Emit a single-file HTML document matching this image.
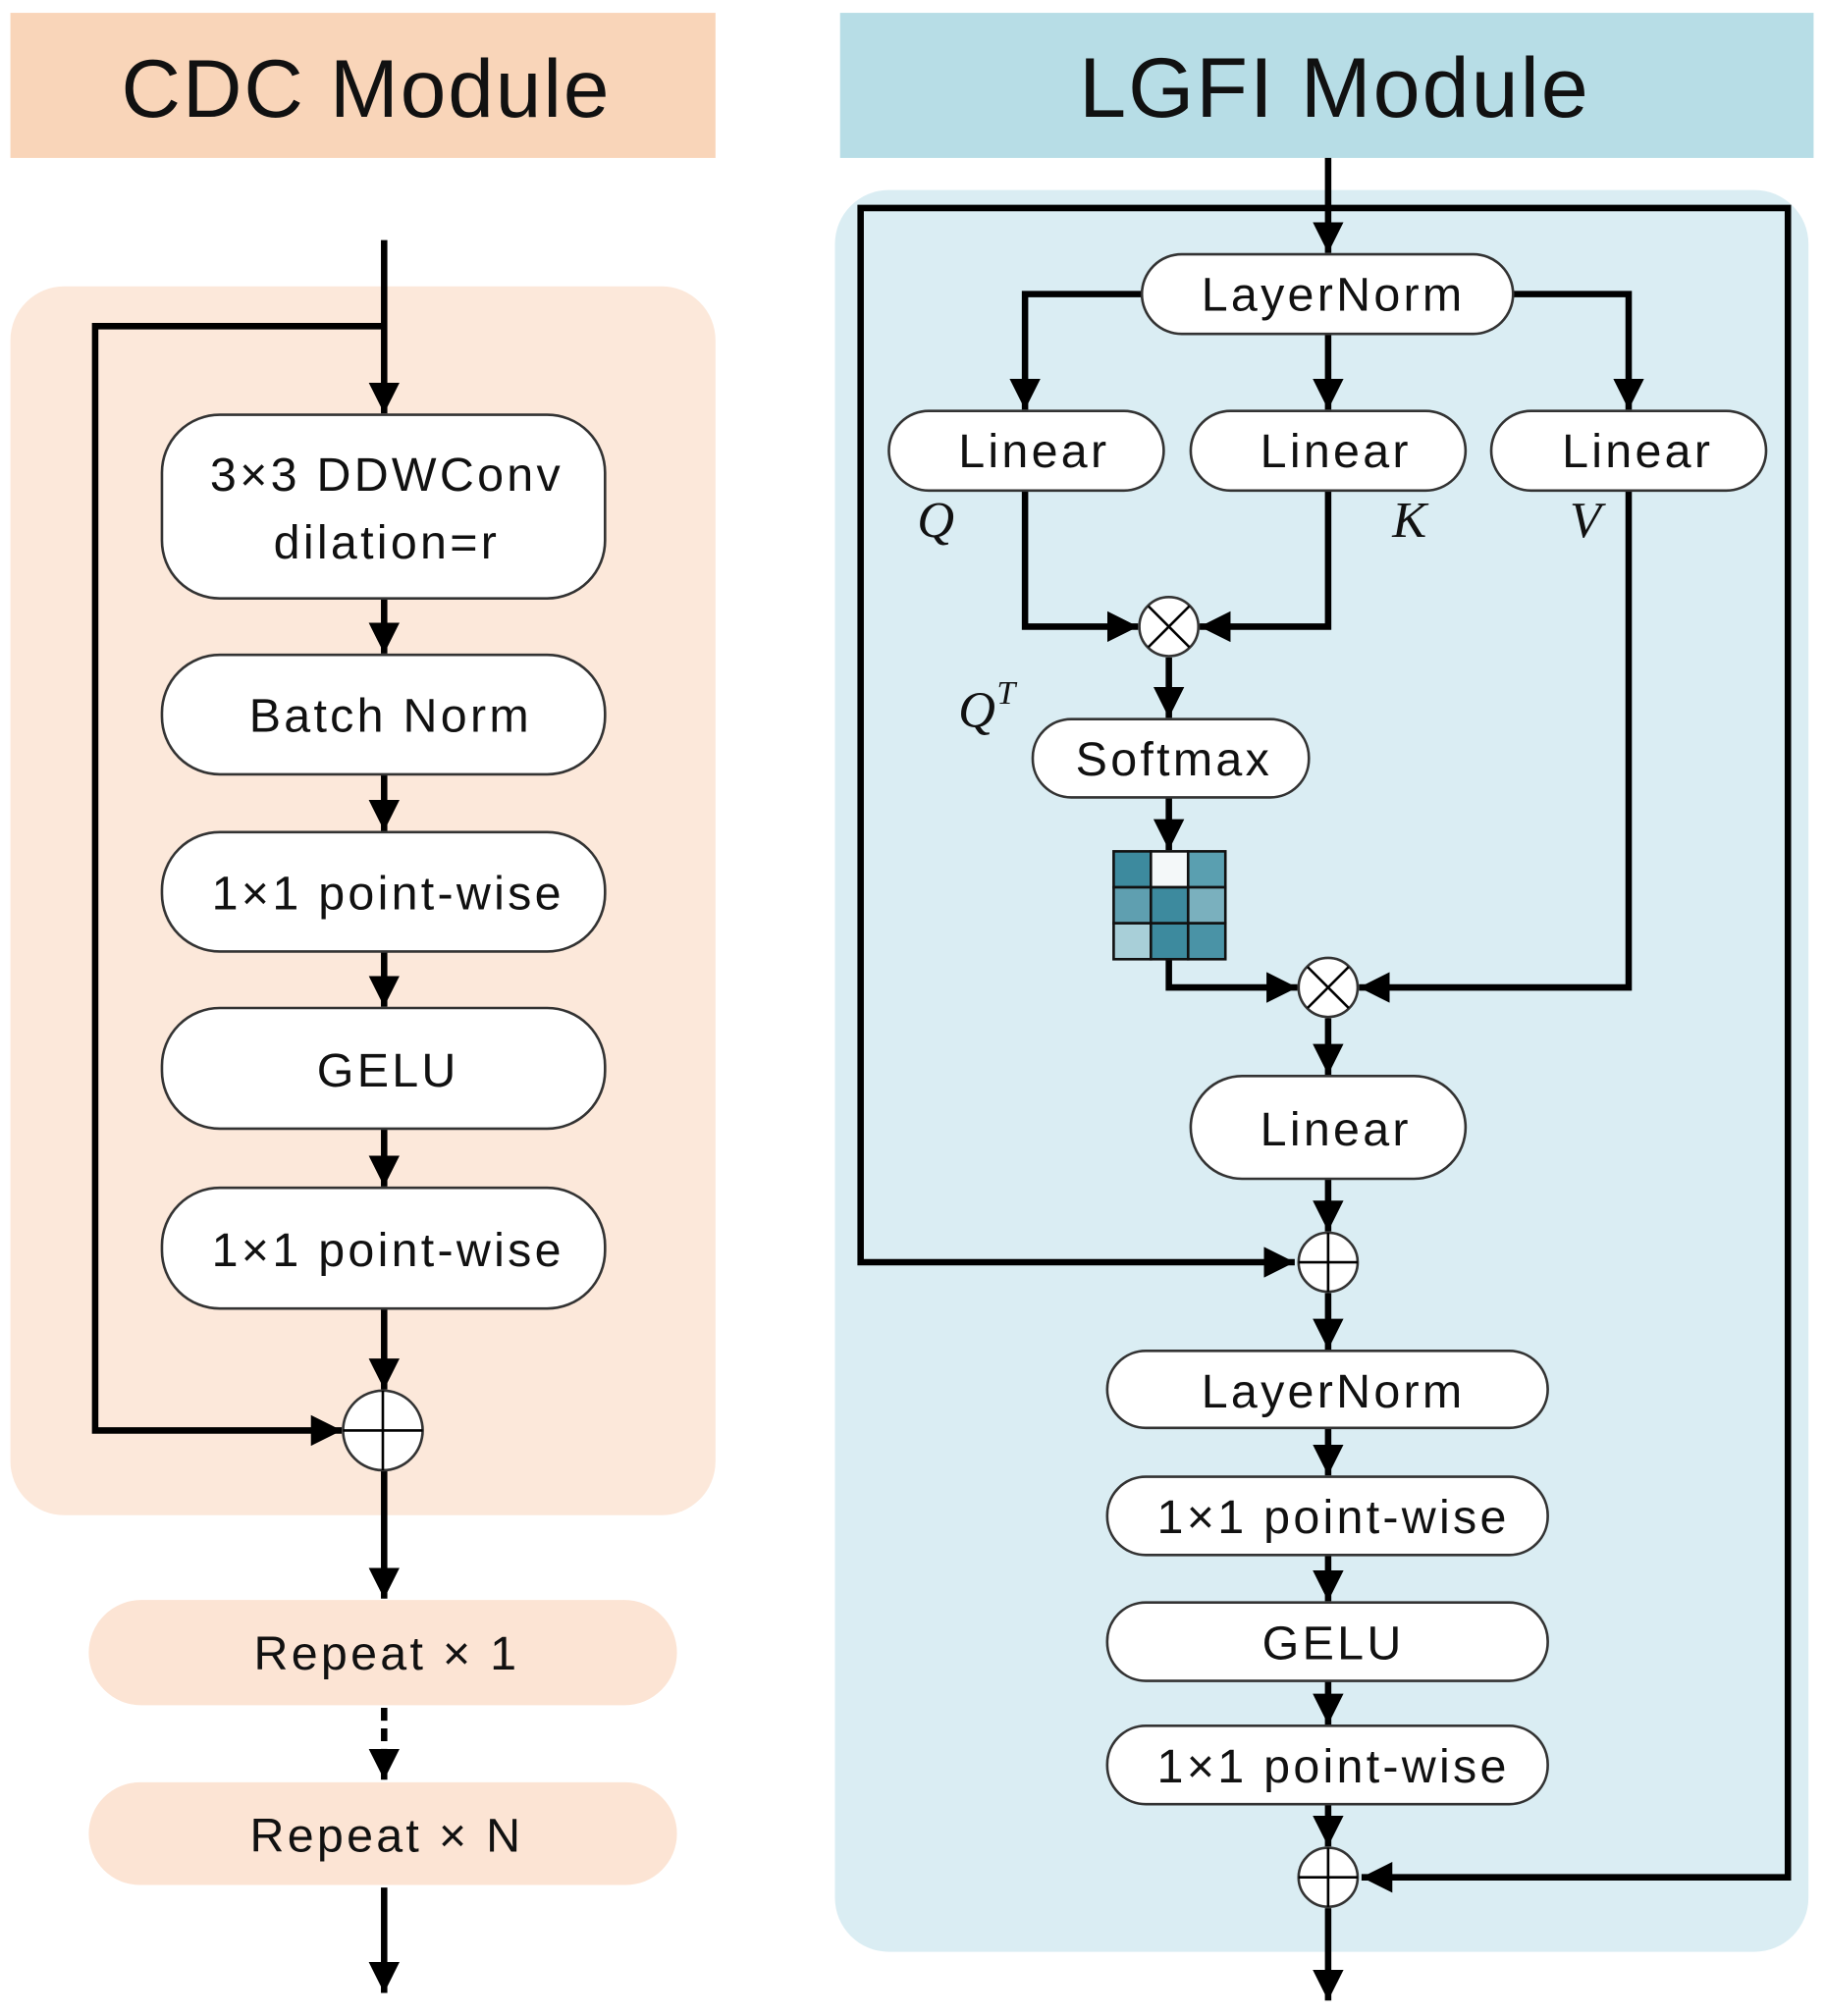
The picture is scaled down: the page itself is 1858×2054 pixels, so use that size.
<!DOCTYPE html>
<html><head><meta charset="utf-8"><style>html,body{margin:0;padding:0;background:#fff}svg{display:block}</style></head>
<body>
<svg width="1858" height="2054" viewBox="0 0 1420 1570" xmlns="http://www.w3.org/2000/svg" font-family="'Liberation Sans', sans-serif">
<defs>
<marker id="a" markerUnits="userSpaceOnUse" markerWidth="24" markerHeight="24" viewBox="0 0 20 20" refX="20" refY="10" orient="auto">
<path d="M0,0 L20,10 L0,20 Z" fill="#000"/>
</marker>
</defs>
<rect width="1420" height="1570" fill="#fff"/>
<!-- CDC -->
<rect x="8" y="10" width="549" height="113" fill="#f9d5b9"/>
<text x="285" y="91" font-size="64" letter-spacing="1.5" text-anchor="middle" fill="#111">CDC Module</text>
<rect x="8" y="223" width="549" height="957" rx="42" fill="#fce8da"/>
<g stroke="#000" stroke-width="5" fill="none">
<line x1="299" y1="187" x2="299" y2="322" marker-end="url(#a)"/>
<polyline points="299,254 74,254 74,1114 266,1114" marker-end="url(#a)"/>
<line x1="299" y1="466" x2="299" y2="509" marker-end="url(#a)"/>
<line x1="299" y1="603" x2="299" y2="647" marker-end="url(#a)"/>
<line x1="299" y1="741" x2="299" y2="784" marker-end="url(#a)"/>
<line x1="299" y1="879" x2="299" y2="924" marker-end="url(#a)"/>
<line x1="299" y1="1019" x2="299" y2="1082" marker-end="url(#a)"/>
<line x1="299" y1="1145" x2="299" y2="1245" marker-end="url(#a)"/>
<line x1="299" y1="1330" x2="299" y2="1386" stroke-dasharray="10,6" marker-end="url(#a)"/>
<line x1="299" y1="1470" x2="299" y2="1552" marker-end="url(#a)"/>
</g>
<g fill="#fff" stroke="#333" stroke-width="2">
<rect x="126" y="323" width="345" height="143" rx="45"/>
<rect x="126" y="510" width="345" height="93" rx="45"/>
<rect x="126" y="648" width="345" height="93" rx="45"/>
<rect x="126" y="785" width="345" height="94" rx="45"/>
<rect x="126" y="925" width="345" height="94" rx="45"/>
<circle cx="298" cy="1114" r="31"/>
</g>
<g stroke="#000" stroke-width="2"><line x1="267" y1="1114" x2="329" y2="1114"/><line x1="298" y1="1083" x2="298" y2="1145"/></g>
<rect x="69" y="1246" width="458" height="82" rx="41" fill="#fce4d4"/>
<rect x="69" y="1388" width="458" height="80" rx="40" fill="#fce4d4"/>
<g font-size="37" letter-spacing="2.5" text-anchor="middle" fill="#111">
<text x="301" y="382">3×3 DDWConv</text>
<text x="301" y="435">dilation=r</text>
<text x="304" y="570">Batch Norm</text>
<text x="302" y="708">1×1 point-wise</text>
<text x="302" y="846">GELU</text>
<text x="302" y="986">1×1 point-wise</text>
<text x="301" y="1300">Repeat × 1</text>
<text x="301" y="1442">Repeat × N</text>
</g>
<!-- LGFI -->
<rect x="654" y="10" width="758" height="113" fill="#b7dde6"/>
<text x="1039" y="91" font-size="66" letter-spacing="1.5" text-anchor="middle" fill="#111">LGFI Module</text>
<rect x="650" y="148" width="758" height="1372" rx="42" fill="#daedf3"/>
<g stroke="#000" stroke-width="5" fill="none">
<line x1="1034" y1="123" x2="1034" y2="197" marker-end="url(#a)"/>
<polyline points="1034,162 670,162 670,983 1008,983" marker-end="url(#a)"/>
<polyline points="1034,162 1392,162 1392,1462 1060,1462" marker-end="url(#a)"/>
<polyline points="889,229 798,229 798,319" marker-end="url(#a)"/>
<line x1="1034" y1="260" x2="1034" y2="319" marker-end="url(#a)"/>
<polyline points="1178,229 1268,229 1268,319" marker-end="url(#a)"/>
<polyline points="798,382 798,488 886,488" marker-end="url(#a)"/>
<polyline points="1034,382 1034,488 934,488" marker-end="url(#a)"/>
<line x1="910" y1="512" x2="910" y2="559" marker-end="url(#a)"/>
<line x1="910" y1="621" x2="910" y2="662" marker-end="url(#a)"/>
<polyline points="910,747 910,769 1010,769" marker-end="url(#a)"/>
<polyline points="1268,382 1268,769 1058,769" marker-end="url(#a)"/>
<line x1="1034" y1="793" x2="1034" y2="837" marker-end="url(#a)"/>
<line x1="1034" y1="918" x2="1034" y2="959" marker-end="url(#a)"/>
<line x1="1034" y1="1007" x2="1034" y2="1051" marker-end="url(#a)"/>
<line x1="1034" y1="1112" x2="1034" y2="1149" marker-end="url(#a)"/>
<line x1="1034" y1="1211" x2="1034" y2="1247" marker-end="url(#a)"/>
<line x1="1034" y1="1309" x2="1034" y2="1343" marker-end="url(#a)"/>
<line x1="1034" y1="1405" x2="1034" y2="1438" marker-end="url(#a)"/>
<line x1="1034" y1="1486" x2="1034" y2="1558" marker-end="url(#a)"/>
</g>
<g fill="#fff" stroke="#333" stroke-width="2">
<rect x="889" y="198" width="289" height="62" rx="31"/>
<rect x="692" y="320" width="214" height="62" rx="31"/>
<rect x="927" y="320" width="214" height="62" rx="31"/>
<rect x="1161" y="320" width="214" height="62" rx="31"/>
<rect x="804" y="560" width="215" height="61" rx="30"/>
<rect x="927" y="838" width="214" height="80" rx="40"/>
<rect x="862" y="1052" width="343" height="60" rx="30"/>
<rect x="862" y="1150" width="343" height="61" rx="30"/>
<rect x="862" y="1248" width="343" height="61" rx="30"/>
<rect x="862" y="1344" width="343" height="61" rx="30"/>
<circle cx="910" cy="488" r="23"/>
<circle cx="1034" cy="769" r="23"/>
<circle cx="1034" cy="983" r="23"/>
<circle cx="1034" cy="1462" r="23"/>
</g>
<g stroke="#000" stroke-width="2">
<line x1="894" y1="472" x2="926" y2="504"/><line x1="926" y1="472" x2="894" y2="504"/>
<line x1="1018" y1="753" x2="1050" y2="785"/><line x1="1050" y1="753" x2="1018" y2="785"/>
<line x1="1011" y1="983" x2="1057" y2="983"/><line x1="1034" y1="960" x2="1034" y2="1006"/>
<line x1="1011" y1="1462" x2="1057" y2="1462"/><line x1="1034" y1="1439" x2="1034" y2="1485"/>
</g>
<g stroke="#111" stroke-width="2">
<rect x="867" y="663" width="29" height="28" fill="#3d8a9e"/>
<rect x="896" y="663" width="29" height="28" fill="#f4f8f9"/>
<rect x="925" y="663" width="29" height="28" fill="#5a9fb0"/>
<rect x="867" y="691" width="29" height="28" fill="#5f9fb0"/>
<rect x="896" y="691" width="29" height="28" fill="#3d8a9e"/>
<rect x="925" y="691" width="29" height="28" fill="#7ab0be"/>
<rect x="867" y="719" width="29" height="28" fill="#a8cfd8"/>
<rect x="896" y="719" width="29" height="28" fill="#3d8a9e"/>
<rect x="925" y="719" width="29" height="28" fill="#4a93a6"/>
</g>
<g font-size="37" letter-spacing="2.5" text-anchor="middle" fill="#111">
<text x="1038" y="242">LayerNorm</text>
<text x="805" y="364">Linear</text>
<text x="1040" y="364">Linear</text>
<text x="1275" y="364">Linear</text>
<text x="914" y="604">Softmax</text>
<text x="1040" y="892">Linear</text>
<text x="1038" y="1096">LayerNorm</text>
<text x="1038" y="1194">1×1 point-wise</text>
<text x="1038" y="1292">GELU</text>
<text x="1038" y="1388">1×1 point-wise</text>
</g>
<g font-family="'Liberation Serif', serif" font-style="italic" font-size="40" fill="#111">
<text x="714" y="418">Q</text>
<text x="1084" y="418">K</text>
<text x="1222" y="418">V</text>
<text x="746" y="566">Q</text>
<text x="776" y="548" font-size="26">T</text>
</g>
</svg>
</body></html>
